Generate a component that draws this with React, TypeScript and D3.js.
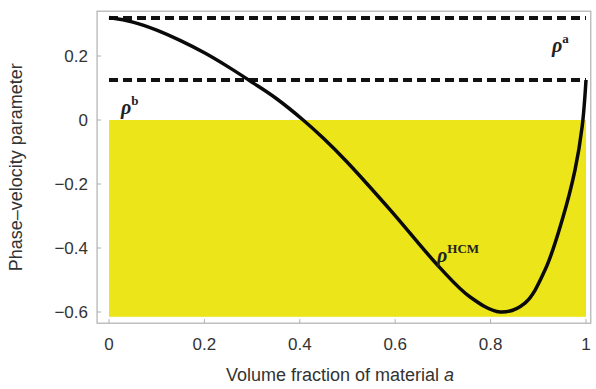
import React, { useEffect, useRef } from 'react';
import * as d3 from 'd3';

const W = 596;
const H = 389;

// curve rho^HCM
const fractionA = [0, 0.05, 0.1, 0.15, 0.2, 0.25, 0.3, 0.35, 0.407, 0.45, 0.497, 0.589, 0.694, 0.757, 0.82, 0.872, 0.914, 0.95, 0.977, 0.992, 1.0];
const rhoHCM = [0.32, 0.306, 0.281, 0.248, 0.21, 0.166, 0.118, 0.068, 0.0, -0.058, -0.128, -0.28, -0.462, -0.553, -0.6, -0.572, -0.469, -0.3125, -0.156, -0.02, 0.125];

const rhoA = 0.319;
const rhoB = 0.125;
const shadeBottom = -0.615;

const xTicks = [0, 0.2, 0.4, 0.6, 0.8, 1];
const yTicks = [0.2, 0, -0.2, -0.4, -0.6];

const fmt = (v: number) => (v === 0 ? '0' : v === 1 ? '1' : v.toFixed(1).replace('-', '\u2212'));

const App: React.FC = () => {
  const svgRef = useRef<SVGSVGElement>(null);

  useEffect(() => {
    if (!svgRef.current) return;
    const svg = d3.select(svgRef.current);
    svg.selectAll('*').remove();

    const x = d3.scaleLinear().domain([0, 1]).range([109, 586]);
    const y = d3.scaleLinear().domain([-0.6, 0.2]).range([312, 56]);

    const x0 = x(-0.025), x1 = x(1.01);
    const y0 = y(0.34), y1 = y(-0.635);

    // frame
    svg.append('rect')
      .attr('x', x0).attr('y', y0)
      .attr('width', x1 - x0).attr('height', y1 - y0)
      .attr('fill', 'white')
      .attr('stroke', '#b0b0b0')
      .attr('stroke-width', 1.2);

    // yellow region
    svg.append('rect')
      .attr('x', x(0)).attr('y', y(0))
      .attr('width', x(1) - x(0)).attr('height', y(shadeBottom) - y(0))
      .attr('fill', '#ebe51a');

    // frame ticks
    xTicks.forEach(t => {
      svg.append('line')
        .attr('x1', x(t)).attr('x2', x(t))
        .attr('y1', y1).attr('y2', y1 - 4)
        .attr('stroke', '#b0b0b0').attr('stroke-width', 1);
    });
    yTicks.forEach(t => {
      svg.append('line')
        .attr('x1', x0).attr('x2', x0 + 4)
        .attr('y1', y(t)).attr('y2', y(t))
        .attr('stroke', '#b0b0b0').attr('stroke-width', 1);
    });

    // dashed reference lines
    [rhoA, rhoB].forEach(v => {
      svg.append('line')
        .attr('x1', x(0)).attr('x2', x(1))
        .attr('y1', y(v)).attr('y2', y(v))
        .attr('stroke', '#111')
        .attr('stroke-width', 4)
        .attr('stroke-dasharray', '9,5');
    });

    // curve
    const pts: [number, number][] = fractionA.map((f, i) => [f, rhoHCM[i]]);
    const line = d3.line<[number, number]>()
      .x(d => x(d[0]))
      .y(d => y(d[1]))
      .curve(d3.curveCatmullRom.alpha(0.5));
    svg.append('path')
      .attr('d', line(pts) || '')
      .attr('fill', 'none')
      .attr('stroke', '#0a0a0a')
      .attr('stroke-width', 3.5)
      .attr('stroke-linejoin', 'round');

    // tick labels
    const tickFont = 'Liberation Sans, Arial, sans-serif';
    xTicks.forEach(t => {
      svg.append('text')
        .attr('x', x(t)).attr('y', 350)
        .attr('text-anchor', 'middle')
        .style('font-family', tickFont).style('font-size', '17px').style('fill', '#333')
        .text(fmt(t));
    });
    yTicks.forEach(t => {
      svg.append('text')
        .attr('x', 88).attr('y', y(t) + 6)
        .attr('text-anchor', 'end')
        .style('font-family', tickFont).style('font-size', '17px').style('fill', '#333')
        .text(fmt(t));
    });

    // axis titles
    const xt = svg.append('text')
      .attr('x', 340).attr('y', 381)
      .attr('text-anchor', 'middle')
      .style('font-family', tickFont).style('font-size', '18px').style('fill', '#333');
    xt.append('tspan').text('Volume fraction of material ');
    xt.append('tspan').style('font-style', 'italic').text('a');

    svg.append('text')
      .attr('transform', `translate(22,${(y0 + y1) / 2}) rotate(-90)`)
      .attr('text-anchor', 'middle')
      .style('font-family', tickFont).style('font-size', '18px').style('fill', '#333')
      .text('Phase\u2013velocity parameter');

    // curve labels
    const addRho = (px: number, py: number, sup: string) => {
      const t = svg.append('text')
        .attr('x', px).attr('y', py)
        .style('font-family', 'Liberation Serif, Times New Roman, serif')
        .style('fill', '#222');
      t.append('tspan').style('font-style', 'italic').style('font-weight', 'bold').style('font-size', '20px').text('\u03c1');
      t.append('tspan').attr('dy', -9).style('font-weight', 'bold').style('font-size', '13px').text(sup);
    };
    addRho(552, 52, 'a');
    addRho(121, 114, 'b');
    addRho(437, 262, 'HCM');
  }, []);

  return (
    <div style={{ position: 'absolute', left: 0, top: 0 }}>
      <svg ref={svgRef} width={W} height={H} style={{ display: 'block', background: 'white' }} />
    </div>
  );
};

export default App;
